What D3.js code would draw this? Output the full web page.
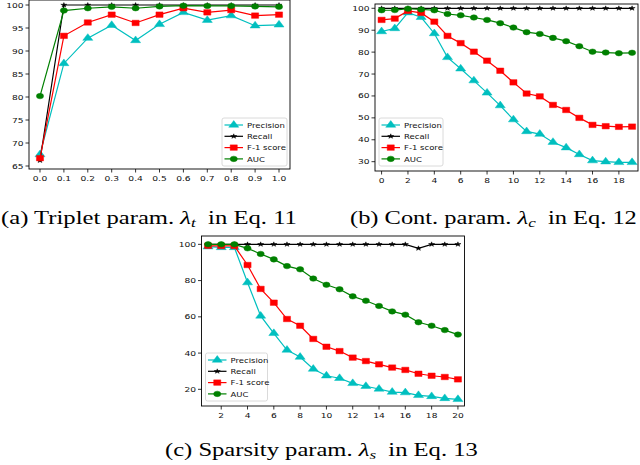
<!DOCTYPE html>
<html><head><meta charset="utf-8">
<script src="https://cdn.jsdelivr.net/npm/d3@7"></script>
<style>body{margin:0;background:#fff}svg{display:block}</style>
</head><body>
<script>
// ---------- DATA ----------
const seriesNames = ["Precision", "Recall", "F-1 score", "AUC"];

const xA = [0.0,0.1,0.2,0.3,0.4,0.5,0.6,0.7,0.8,0.9,1.0];
const precA = [67.5,87.3,92.8,95.6,92.3,95.8,98.4,96.7,97.7,95.5,95.7];
const recA  = [66.2,100,100,100,100,100,100,100,100,100,100];
const f1A   = [66.7,93.3,96.2,97.9,96.1,97.9,99.3,98.4,98.9,97.7,97.9];
const aucA  = [80.2,98.8,99.3,99.6,99.3,99.7,99.85,99.8,99.8,99.7,99.6];
const xTicksA = [0.0,0.1,0.2,0.3,0.4,0.5,0.6,0.7,0.8,0.9,1.0];
const yTicksA = [65,70,75,80,85,90,95,100];

const xB = [0,1,2,3,4,5,6,7,8,9,10,11,12,13,14,15,16,17,18,19];
const precB = [89.4,90.8,98.0,95.9,88.5,77.6,72.4,67.0,61.4,55.6,49.2,43.8,42.6,38.9,36.4,33.3,30.5,30.0,29.7,29.7];
const recB  = [100,100,100,100,100,100,100,100,100,100,100,100,100,100,100,100,100,100,100,100];
const f1B   = [94.7,95.3,98.8,97.9,93.9,87.4,84.1,80.2,76.1,71.5,66.2,61.1,59.8,55.9,53.6,50.0,46.8,46.2,45.9,46.0];
const aucB  = [99.1,99.2,99.8,99.5,99.1,97.4,96.8,95.8,94.7,93.2,91.2,89.1,88.3,86.5,85.0,82.7,80.2,79.8,79.5,79.7];
const xTicksB = [0,2,4,6,8,10,12,14,16,18];
const yTicksB = [30,40,50,60,70,80,90,100];

const xC = [1,2,3,4,5,6,7,8,9,10,11,12,13,14,15,16,17,18,19,20];
const precC = [98.7,98.3,98.3,78.9,60.5,50.9,41.7,37.8,31.2,27.5,26.1,23.3,21.7,20.2,18.5,18.2,16.7,16.1,15.0,14.5];
const recC  = [100,100,100,100,100,100,100,100,100,100,100,100,100,100,100,100,97.8,100,100,100];
const f1C   = [99.2,99.1,99.1,88.6,75.4,67.8,58.8,55.1,47.8,43.5,41.1,37.5,35.6,33.8,32.0,30.7,28.6,27.5,26.8,25.5];
const aucC  = [100,100,100,97.8,94.7,91.7,88.0,86.2,81.1,77.7,75.2,71.3,68.9,66.0,63.0,61.2,57.0,55.1,52.7,50.2];
const xTicksC = [2,4,6,8,10,12,14,16,18,20];
const yTicksC = [20,40,60,80,100];

// ---------- STYLE ----------
const colors = ["#00bfbf", "#000000", "#ff0000", "#008000"];
const shapes = [d3.symbolTriangle, d3.symbolStar, d3.symbolSquare, d3.symbolCircle];
const sizes = [26, 7, 30, 24];
const SX = 1.3;   // horizontal stretch of the original figure

const svg = d3.select("body").append("svg").attr("width", 640).attr("height", 465);

function panel(cfg) {
  const x = d3.scaleLinear().domain(cfg.xDom).range([cfg.l, cfg.r]);
  const y = d3.scaleLinear().domain(cfg.yDom).range([cfg.b, cfg.t]);
  const g = svg.append("g");

  cfg.series.forEach((vals, i) => {
    const pts = cfg.xs.map((xv, j) => [xv, vals[j]]);
    g.append("path").datum(pts)
      .attr("fill", "none").attr("stroke", colors[i]).attr("stroke-width", 1.2)
      .attr("d", d3.line().x(d => x(d[0])).y(d => y(d[1])));
    g.selectAll(null).data(pts).enter().append("path")
      .attr("d", d3.symbol().type(shapes[i]).size(sizes[i]))
      .attr("fill", colors[i]).attr("stroke", colors[i]).attr("stroke-width", 0.4)
      .attr("transform", d => `translate(${x(d[0])},${y(d[1])}) scale(${SX},1)`);
  });

  g.append("rect").attr("x", cfg.l).attr("y", cfg.t)
    .attr("width", cfg.r - cfg.l).attr("height", cfg.b - cfg.t)
    .attr("fill", "none").attr("stroke", "#000").attr("stroke-width", 0.9);

  const tf = "DejaVu Sans, sans-serif";
  cfg.yTicks.forEach(v => {
    const yy = y(v);
    g.append("line").attr("x1", cfg.l - 3.5).attr("x2", cfg.l).attr("y1", yy).attr("y2", yy)
      .attr("stroke", "#000").attr("stroke-width", 0.8);
    g.append("text").text(cfg.yFmt(v))
      .attr("transform", `translate(${cfg.l - 5.5},${yy + 2.5}) scale(${SX},1)`)
      .attr("text-anchor", "end").attr("font-family", tf).attr("font-size", 7).attr("fill", "#111");
  });
  cfg.xTicks.forEach(v => {
    const xx = x(v);
    g.append("line").attr("x1", xx).attr("x2", xx).attr("y1", cfg.b).attr("y2", cfg.b + 3.5)
      .attr("stroke", "#000").attr("stroke-width", 0.8);
    g.append("text").text(cfg.xFmt(v))
      .attr("transform", `translate(${xx},${cfg.b + 12}) scale(${SX},1)`)
      .attr("text-anchor", "middle").attr("font-family", tf).attr("font-size", 7).attr("fill", "#111");
  });

  const L = cfg.leg;
  g.append("rect").attr("x", L.x).attr("y", L.y).attr("width", L.w).attr("height", 48)
    .attr("rx", 2).attr("fill", "#fff").attr("fill-opacity", 0.85)
    .attr("stroke", "#d0d0d0").attr("stroke-width", 0.8);
  seriesNames.forEach((name, i) => {
    const yy = L.y + 7 + i * 11.3;
    g.append("line").attr("x1", L.x + 2.5).attr("x2", L.x + 21).attr("y1", yy).attr("y2", yy)
      .attr("stroke", colors[i]).attr("stroke-width", 1.2);
    g.append("path").attr("d", d3.symbol().type(shapes[i]).size(sizes[i]))
      .attr("fill", colors[i]).attr("stroke", colors[i]).attr("stroke-width", 0.4)
      .attr("transform", `translate(${L.x + 11.75},${yy}) scale(${SX},1)`);
    g.append("text").text(name)
      .attr("transform", `translate(${L.x + 25},${yy + 2.7}) scale(1.12,1)`)
      .attr("font-family", tf).attr("font-size", 7.6).attr("fill", "#111");
  });
}

panel({
  l: 29, r: 290, t: 0, b: 169, xDom: [-0.046, 1.046], yDom: [64.35, 101.09],
  xs: xA, series: [precA, recA, f1A, aucA], xTicks: xTicksA, yTicks: yTicksA,
  xFmt: d3.format(".1f"), yFmt: d => d, leg: { x: 222, y: 118, w: 65 }
});
panel({
  l: 375, r: 638, t: 4, b: 171, xDom: [-0.5, 19.45], yDom: [25.75, 101.96],
  xs: xB, series: [precB, recB, f1B, aucB], xTicks: xTicksB, yTicks: yTicksB,
  xFmt: d => d, yFmt: d => d, leg: { x: 379, y: 118, w: 64 }
});
panel({
  l: 201.5, r: 464.5, t: 236, b: 406, xDom: [0.5, 20.5], yDom: [10.8, 104.6],
  xs: xC, series: [precC, recC, f1C, aucC], xTicks: xTicksC, yTicks: yTicksC,
  xFmt: d => d, yFmt: d => d, leg: { x: 205.5, y: 353, w: 62 }
});

function caption(x0, x1, yb, pre, sub, post) {
  const t = svg.append("text").attr("font-family", "Liberation Serif, Times New Roman, serif")
    .attr("font-size", 18).attr("fill", "#000");
  t.append("tspan").text(pre);
  t.append("tspan").attr("font-style", "italic").text("\u03BB");
  t.append("tspan").attr("font-style", "italic").attr("font-size", 12.5).attr("dy", 3).text(sub);
  t.append("tspan").attr("dy", -3).text("\u2002" + post);
  const w = t.node().getComputedTextLength();
  t.attr("transform", `translate(${x0},${yb}) scale(${(x1 - x0) / w},1)`);
}
caption(1, 297, 224, "(a) Triplet param. ", "t", "in Eq. 11");
caption(350, 637, 224, "(b) Cont. param. ", "c", "in Eq. 12");
caption(165, 478, 456, "(c) Sparsity param. ", "s", "in Eq. 13");
</script>
</body></html>
